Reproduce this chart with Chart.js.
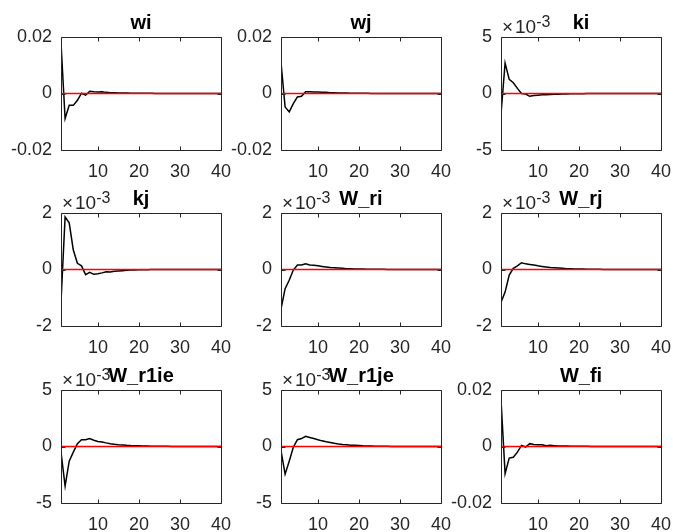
<!DOCTYPE html>
<html>
<head>
<meta charset="utf-8">
<script src="https://cdn.jsdelivr.net/npm/chart.js@4.4.0/dist/chart.umd.min.js"></script>
<style>
  body { margin: 0; background: #fff; width: 673px; height: 532px; position: relative; overflow: hidden; }
  .panel { position: absolute; }
</style>
</head>
<body>
<script>
// impulse responses, 40 periods. panels with an exponent hold values in units of 10^exp
var periods = Array.from({length: 40}, (_, i) => i + 1);

var wi = [0.0179, -0.0089, -0.0042, -0.0042, -0.0024, 0.0001, -0.0006, 0.0008, 0.0006, 0.0005,
          0.0006, 0.0004, 0.0003, 0.0003, 0.0002, 0.0002, 0.0002, 0.0001, 0.0001, 0.0001,
          0.0001, 0.0001, 0.0001, 0, 0, 0, 0, 0, 0, 0,
          0, 0, 0, 0, 0, 0, 0, 0, 0, 0];
var wj = [0.0110, -0.0048, -0.0065, -0.0036, -0.0012, -0.0010, 0.0006, 0.0006, 0.0005, 0.0005,
          0.0004, 0.0004, 0.0003, 0.0003, 0.0002, 0.0002, 0.0002, 0.0001, 0.0001, 0.0001,
          0.0001, 0.0001, 0, 0, 0, 0, 0, 0, 0, 0,
          0, 0, 0, 0, 0, 0, 0, 0, 0, 0];
var ki = [-1.8, 2.7, 1.25, 0.95, 0.45, 0.0, -0.05, -0.25, -0.18, -0.15,
          -0.12, -0.10, -0.08, -0.07, -0.06, -0.05, -0.04, -0.03, -0.03, -0.02,
          -0.02, -0.01, -0.01, -0.01, 0, 0, 0, 0, 0, 0,
          0, 0, 0, 0, 0, 0, 0, 0, 0, 0];
var kj = [-1.14, 1.86, 1.65, 0.69, 0.22, 0.13, -0.18, -0.10, -0.17, -0.15,
          -0.12, -0.08, -0.09, -0.06, -0.05, -0.04, -0.03, -0.02, -0.02, -0.01,
          -0.01, -0.01, 0, 0, 0, 0, 0, 0, 0, 0,
          0, 0, 0, 0, 0, 0, 0, 0, 0, 0];
var W_ri = [-1.40, -0.68, -0.38, -0.02, 0.16, 0.16, 0.20, 0.16, 0.15, 0.13,
            0.11, 0.09, 0.07, 0.06, 0.05, 0.04, 0.03, 0.03, 0.02, 0.02,
            0.02, 0.01, 0.01, 0.01, 0.01, 0.01, 0, 0, 0, 0,
            0, 0, 0, 0, 0, 0, 0, 0, 0, 0];
var W_rj = [-1.16, -0.80, -0.20, 0.04, 0.13, 0.24, 0.20, 0.18, 0.16, 0.13,
            0.11, 0.09, 0.07, 0.06, 0.05, 0.04, 0.03, 0.03, 0.02, 0.02,
            0.02, 0.01, 0.01, 0.01, 0.01, 0, 0, 0, 0, 0,
            0, 0, 0, 0, 0, 0, 0, 0, 0, 0];
var W_r1ie = [-0.5, -3.5, -1.3, -0.5, 0.25, 0.6, 0.6, 0.7, 0.55, 0.45,
              0.40, 0.32, 0.25, 0.20, 0.16, 0.13, 0.10, 0.08, 0.07, 0.06,
              0.05, 0.04, 0.03, 0.03, 0.02, 0.02, 0.02, 0.01, 0.01, 0.01,
              0.01, 0.01, 0, 0, 0, 0, 0, 0, 0, 0];
var W_r1je = [-0.37, -2.45, -1.3, -0.06, 0.6, 0.7, 0.9, 0.8, 0.7, 0.6,
              0.5, 0.42, 0.35, 0.28, 0.22, 0.18, 0.15, 0.12, 0.10, 0.08,
              0.06, 0.05, 0.04, 0.03, 0.03, 0.02, 0.02, 0.01, 0.01, 0.01,
              0.01, 0, 0, 0, 0, 0, 0, 0, 0, 0];
var W_fi = [0.0165, -0.0096, -0.0041, -0.0038, -0.0020, 0.0004, -0.0002, 0.0010, 0.0007, 0.0006,
            0.0006, 0.0003, 0.0004, 0.0003, 0.0002, 0.0002, 0.0002, 0.0001, 0.0001, 0.0001,
            0.0001, 0.0001, 0, 0, 0, 0, 0, 0, 0, 0,
            0, 0, 0, 0, 0, 0, 0, 0, 0, 0];

var titles = ['wi', 'wj', 'ki', 'kj', 'W_ri', 'W_rj', 'W_r1ie', 'W_r1je', 'W_fi'];
var series = [wi, wj, ki, kj, W_ri, W_rj, W_r1ie, W_r1je, W_fi];
var exponents = [0, 0, -3, -3, -3, -3, -3, -3, 0];
var yLimits = [0.02, 0.02, 5, 2, 2, 2, 5, 5, 0.02];
var xTicks = [10, 20, 30, 40];

// plot areas of the 3x3 grid
var colLeft = [61, 281, 501];
var rowTop = [37, 213, 390];
var plotW = 160, plotH = 113;
var padL = 60, padT = 40, padR = 25, padB = 32;

Chart.defaults.font.family = "'Liberation Sans', Arial, Helvetica, sans-serif";
Chart.defaults.color = '#262626';

var matlabAxes = {
  id: 'matlabAxes',
  afterDatasetsDraw(chart, args, opts) {
    var ctx = chart.ctx, a = chart.chartArea;
    var xs = chart.scales.x, ys = chart.scales.y;
    var L = Math.round(a.left) + 0.5, T = Math.round(a.top) + 0.5;
    var R = Math.round(a.right) + 0.5, B = Math.round(a.bottom) + 0.5;
    ctx.save();
    ctx.strokeStyle = '#262626';
    ctx.lineWidth = 1;
    ctx.beginPath();
    ctx.rect(L, T, R - L, B - T);
    xs.ticks.forEach(function (t) {
      var px = Math.round(xs.getPixelForValue(t.value)) + 0.5;
      ctx.moveTo(px, B); ctx.lineTo(px, B - 4);
      ctx.moveTo(px, T); ctx.lineTo(px, T + 4);
    });
    ys.ticks.forEach(function (t) {
      var py = Math.round(ys.getPixelForValue(t.value)) + 0.5;
      ctx.moveTo(L, py); ctx.lineTo(L + 4, py);
      ctx.moveTo(R, py); ctx.lineTo(R - 4, py);
    });
    ctx.stroke();

    if (opts.exponent) {
      ctx.fillStyle = '#262626';
      ctx.textAlign = 'left';
      ctx.textBaseline = 'alphabetic';
      ctx.font = "19px 'Liberation Sans', Arial, sans-serif";
      ctx.fillText('\u00d7', a.left + 1, a.top - 4);
      ctx.fillText('10', a.left + 14, a.top - 4);
      var w = ctx.measureText('10').width;
      ctx.font = "16px 'Liberation Sans', Arial, sans-serif";
      ctx.fillText(String(opts.exponent), a.left + 14 + w, a.top - 10);
    }

    ctx.fillStyle = '#000';
    ctx.textAlign = 'center';
    ctx.textBaseline = 'alphabetic';
    ctx.font = "bold 20px 'Liberation Sans', Arial, sans-serif";
    ctx.fillText(opts.title, (a.left + a.right) / 2, a.top - 8);
    ctx.restore();
  }
};

titles.forEach(function (name, i) {
  var div = document.createElement('div');
  div.className = 'panel';
  var col = i % 3, row = Math.floor(i / 3);
  div.style.left = (colLeft[col] - padL) + 'px';
  div.style.top = (rowTop[row] - padT) + 'px';
  var cv = document.createElement('canvas');
  cv.width = padL + plotW + padR;
  cv.height = padT + plotH + padB;
  div.appendChild(cv);
  document.body.appendChild(div);

  var lim = yLimits[i];
  new Chart(cv, {
    type: 'line',
    data: {
      datasets: [
        {
          data: periods.map((p, k) => ({x: p, y: series[i][k]})),
          borderColor: '#000000',
          borderWidth: 1.5,
          pointRadius: 0,
          tension: 0,
          order: 2
        },
        {
          data: periods.map(p => ({x: p, y: 0})),
          borderColor: '#ff0000',
          borderWidth: 1.5,
          pointRadius: 0,
          order: 1
        }
      ]
    },
    options: {
      responsive: false,
      animation: false,
      devicePixelRatio: 1,
      layout: { padding: { left: 0, top: padT, right: padR, bottom: 0 } },
      plugins: {
        legend: { display: false },
        tooltip: { enabled: false },
        matlabAxes: { title: name, exponent: exponents[i] }
      },
      scales: {
        x: {
          type: 'linear',
          min: 1,
          max: 40,
          afterBuildTicks: s => { s.ticks = xTicks.map(v => ({value: v})); },
          afterFit: s => { s.height = padB; },
          grid: { display: false, drawTicks: false },
          border: { display: false },
          ticks: { font: { size: 18 }, padding: 11, maxRotation: 0, color: '#262626' }
        },
        y: {
          min: -lim,
          max: lim,
          afterBuildTicks: s => { s.ticks = [-lim, 0, lim].map(v => ({value: v})); },
          afterFit: s => { s.width = padL; },
          grid: { display: false, drawTicks: false },
          border: { display: false },
          ticks: {
            font: { size: 18 },
            padding: 9,
            color: '#262626',
            callback: v => String(Math.round(v * 1000) / 1000)
          }
        }
      }
    },
    plugins: [matlabAxes]
  });
});
</script>
</body>
</html>
